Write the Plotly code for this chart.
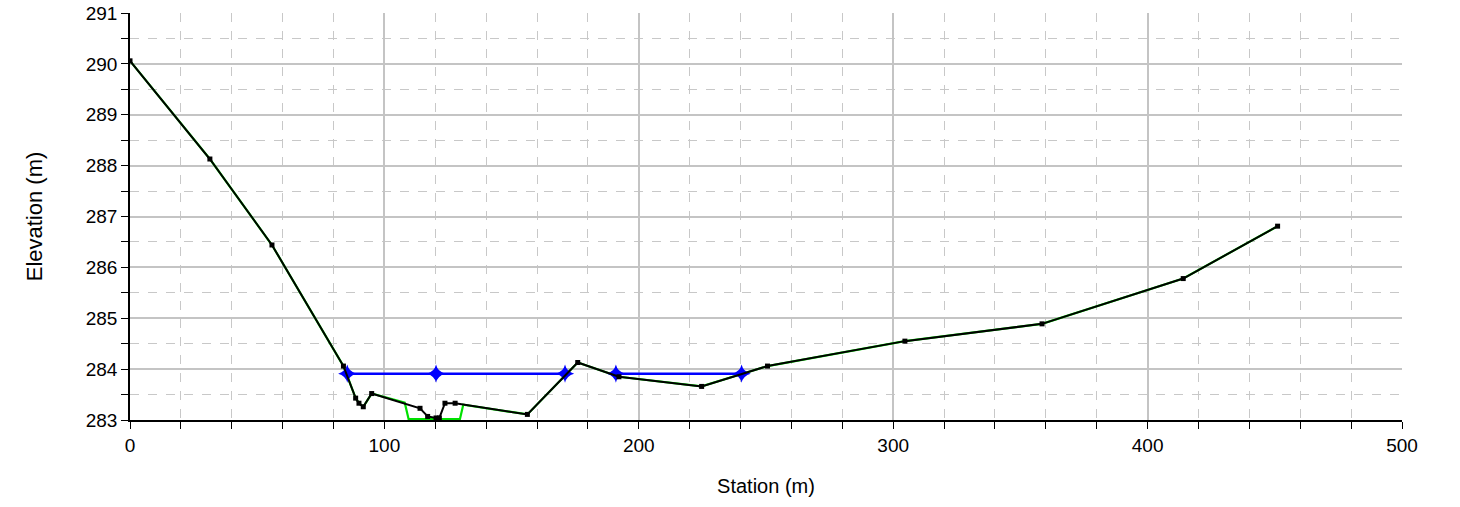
import plotly.graph_objects as go

# Ground survey points (station m, elevation m)
station = [0.0, 31.4, 55.8, 83.9, 88.7, 90.0, 91.7, 95.0, 114.0, 117.0, 120.3,
           121.6, 123.8, 127.8, 156.2, 176.0, 192.2, 224.7, 250.6, 304.6,
           358.5, 414.0, 451.1]
elevation = [290.06, 288.13, 286.44, 284.06, 283.43, 283.33, 283.26, 283.52,
             283.23, 283.07, 283.04, 283.04, 283.33, 283.33, 283.11, 284.13,
             283.85, 283.66, 284.06, 284.55, 284.89, 285.78, 286.81]

# Design section with trapezoidal pilot channel
design_station = [0.0, 31.4, 55.8, 83.9, 88.7, 90.0, 91.7, 95.0, 108.0, 109.5,
                  129.7, 131.0, 156.2, 176.0, 192.2, 224.7, 250.6, 304.6,
                  358.5, 414.0, 451.1]
design_elevation = [290.06, 288.13, 286.44, 284.06, 283.43, 283.33, 283.26,
                    283.52, 283.34, 283.02, 283.02, 283.30, 283.11, 284.13,
                    283.85, 283.66, 284.06, 284.55, 284.89, 285.78, 286.81]

# Water surface segments (None breaks the line)
ws_station = [85.4, 120.3, 171.0, None, 191.0, 240.4]
ws_level = 283.91
ws_elevation = [ws_level if s is not None else None for s in ws_station]

fig = go.Figure()

fig.add_trace(go.Scatter(
    x=design_station, y=design_elevation, mode="lines",
    line=dict(color="#00e000", width=2.2), hoverinfo="skip", showlegend=False))

fig.add_trace(go.Scatter(
    x=ws_station, y=ws_elevation, mode="lines+markers",
    line=dict(color="#0000ff", width=2.5),
    marker=dict(symbol="star-diamond", size=13, color="#0000ff"),
    showlegend=False))

fig.add_trace(go.Scatter(
    x=station, y=elevation, mode="lines+markers",
    line=dict(color="#000000", width=2),
    marker=dict(symbol="square", size=5, color="#000000"),
    showlegend=False))

grid_major = "#c4c4c4"
grid_minor = "#c8c8c8"
font_family = "Liberation Sans, Arial, sans-serif"

fig.update_layout(
    width=1460, height=507,
    margin=dict(l=130, r=58, t=13, b=87),
    paper_bgcolor="white", plot_bgcolor="white",
    font=dict(family=font_family, color="#000000"),
    xaxis=dict(
        range=[0, 500], dtick=100, tick0=0, automargin=False,
        showgrid=True, gridcolor=grid_major, gridwidth=1.5,
        showline=True, linecolor="#000000", linewidth=1.5,
        ticks="outside", ticklen=7, tickcolor="#000000", tickwidth=1,
        tickfont=dict(size=19), zeroline=False,
        title=dict(text="Station (m)", font=dict(size=20), standoff=24),
        minor=dict(dtick=20, showgrid=True, gridcolor=grid_minor,
                   griddash="dash", gridwidth=1, ticks="outside", ticklen=7,
                   tickcolor="#000000"),
    ),
    yaxis=dict(
        range=[283, 291], dtick=1, tick0=283, automargin=False,
        showgrid=True, gridcolor=grid_major, gridwidth=1.5,
        showline=True, linecolor="#000000", linewidth=1.5,
        ticks="outside", ticklen=7, tickcolor="#000000", tickwidth=1,
        tickfont=dict(size=19), zeroline=False,
        title=dict(text="Elevation (m)", font=dict(size=22), standoff=37),
        minor=dict(dtick=0.5, showgrid=True, gridcolor=grid_minor,
                   griddash="dash", gridwidth=1, ticks="outside", ticklen=7,
                   tickcolor="#000000"),
    ),
)

fig.write_html("out.html")
